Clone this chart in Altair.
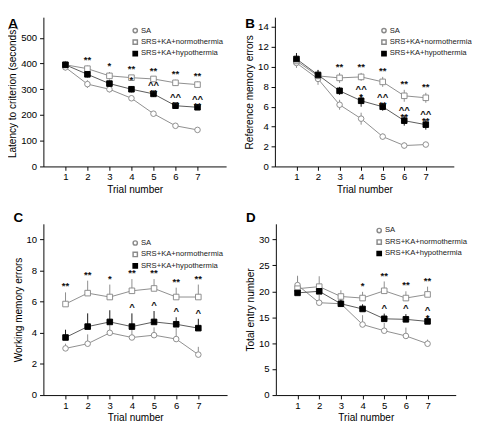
import altair as alt
import pandas as pd

FONT = "Liberation Sans"
trials = [1, 2, 3, 4, 5, 6, 7]
groups = ["SA", "SRS+KA+normothermia", "SRS+KA+hypothermia"]

a_sa = [385, 320, 300, 265, 205, 158, 142]
a_norm = [395, 380, 352, 345, 340, 325, 318]
a_hypo = [395, 358, 322, 300, 282, 236, 230]
a_sa_err = [12, 15, 12, 10, 10, 8, 8]
a_norm_err = [15, 12, 15, 10, 10, 12, 12]
a_hypo_err = [12, 12, 12, 12, 12, 10, 10]
a_ann_trial = [2, 3, 4, 5, 6, 7, 4, 5, 6, 7]
a_ann_group = ["n"] * 6 + ["h"] * 4
a_ann_text = ["**", "*", "**", "**", "**", "**", "*", "^^\n**", "^^\n**", "^^\n**"]

b_sa = [10.4, 8.8, 6.2, 4.8, 3.0, 2.1, 2.2]
b_norm = [10.6, 9.1, 8.9, 9.0, 8.5, 7.1, 6.9]
b_hypo = [10.8, 9.2, 7.6, 6.6, 6.0, 4.6, 4.2]
b_sa_err = [0.5, 0.6, 0.5, 0.6, 0.3, 0.3, 0.2]
b_norm_err = [0.6, 0.6, 0.5, 0.4, 0.5, 0.6, 0.5]
b_hypo_err = [0.6, 0.5, 0.4, 0.6, 0.4, 0.5, 0.5]
b_ann_trial = [3, 4, 5, 6, 7, 4, 5, 6, 7]
b_ann_group = ["n"] * 5 + ["h"] * 4
b_ann_text = ["**", "**", "**", "**", "**", "^^\n*", "^^\n**", "^^\n**", "^^\n**"]

c_sa = [3.0, 3.3, 4.0, 3.7, 3.85, 3.6, 2.6]
c_norm = [5.85, 6.55, 6.3, 6.7, 6.85, 6.3, 6.3]
c_hypo = [3.7, 4.4, 4.7, 4.4, 4.7, 4.55, 4.3]
c_sa_err = [0.3, 0.6, 0.5, 0.6, 0.5, 0.7, 0.5]
c_norm_err = [0.75, 0.8, 0.8, 0.75, 0.6, 0.6, 0.8]
c_hypo_err = [0.5, 0.85, 0.75, 0.85, 0.7, 0.45, 0.6]
c_ann_trial = [1, 2, 3, 4, 5, 6, 7, 4, 5, 6, 7]
c_ann_group = ["n"] * 7 + ["h"] * 4
c_ann_text = ["**", "**", "*", "**", "**", "**", "**", "^", "^", "^", "^"]

d_sa = [21.2, 17.8, 17.6, 13.6, 12.4, 11.4, 9.9]
d_norm = [20.5, 20.9, 19.0, 18.7, 20.1, 18.7, 19.4]
d_hypo = [19.7, 20.0, 17.6, 16.6, 14.7, 14.6, 14.2]
d_sa_err = [1.5, 1.5, 1.2, 1.8, 1.5, 1.6, 0.8]
d_norm_err = [2.5, 2.0, 1.2, 1.2, 1.8, 1.3, 1.5]
d_hypo_err = [1.2, 1.3, 0.8, 0.9, 1.0, 1.0, 1.0]
d_ann_trial = [4, 5, 6, 7, 5, 6, 7]
d_ann_group = ["n"] * 4 + ["h"] * 3
d_ann_text = ["*", "**", "**", "**", "^", "^", "^\n*"]

line_colors = ["#8a8a8a", "#8a8a8a", "#555555"]
bar_colors = ["#8a8a8a", "#8a8a8a", "#111111"]


def panel(letter, ytitle, ymax, yticks, means, errs, two_sided, ann, leg_xy, w, h, toff):
    rows = []
    for g, m, e in zip(groups, means, errs):
        for t, v, er in zip(trials, m, e):
            rows.append(dict(trial=t, group=g, value=v,
                             lo=v - er if two_sided else v, hi=v + er))
    df = pd.DataFrame(rows)
    hi = {(r["group"], r["trial"]): r["hi"] for r in rows}
    gmap = {"n": groups[1], "h": groups[2]}
    adf = pd.DataFrame([dict(trial=t, text=s, pos=hi[(gmap[g], t)])
                        for t, g, s in zip(*ann)])

    xs = alt.Scale(domain=[0, 8.3], nice=False, zero=False)
    ys = alt.Scale(domain=[0, ymax], nice=False)
    common = dict(grid=False, tickSize=4, domainColor="black", tickColor="black",
                  labelFontSize=10, titleFontSize=10.5, titleFontWeight="normal",
                  labelFont=FONT, titleFont=FONT, labelColor="black", titleColor="black",
                  labelOverlap=False)
    xax = alt.Axis(values=trials, tickCount=7, title="Trial number", titlePadding=3,
                   labelPadding=2, **common)
    yax = alt.Axis(values=yticks, tickCount=len(yticks), title=ytitle, titlePadding=3,
                   labelPadding=3, **common)
    X = lambda f: alt.X(f, type="quantitative", scale=xs, axis=xax)
    Y = lambda f: alt.Y(f, type="quantitative", scale=ys, axis=yax)

    leg = alt.Legend(orient="none", legendX=leg_xy[0], legendY=leg_xy[1], title=None,
                     labelFontSize=8, labelFont=FONT, labelColor="#222",
                     symbolSize=20, rowPadding=0, labelOffset=2, labelLimit=200, padding=0)

    layers = []
    for g, lc, bc in zip(groups, line_colors, bar_colors):
        sub = alt.Chart(df).transform_filter(alt.datum.group == g)
        layers.append(sub.mark_line(strokeWidth=1, color=lc).encode(x=X("trial"), y=Y("value")))
        layers.append(sub.mark_rule(strokeWidth=1, color=bc).encode(x=X("trial"), y=Y("lo"), y2="hi:Q"))
    pts = alt.Chart(df).mark_point(size=34, strokeWidth=1, opacity=1, filled=True).encode(
        x=X("trial"), y=Y("value"),
        shape=alt.Shape("group:N", title=None, legend=leg,
                        scale=alt.Scale(domain=groups, range=["circle", "square", "square"])),
        fill=alt.Fill("group:N", title=None, legend=leg,
                      scale=alt.Scale(domain=groups, range=["white", "white", "black"])),
        stroke=alt.Stroke("group:N", title=None, legend=leg,
                          scale=alt.Scale(domain=groups, range=["#8a8a8a", "#8a8a8a", "black"])))
    layers.append(pts)
    txt = alt.Chart(adf).mark_text(font=FONT, fontSize=10, fontWeight="bold",
                                   baseline="bottom", lineBreak="\n", lineHeight=8,
                                   dy=-1, color="#111").encode(
        x=X("trial"), y=Y("pos"), text="text:N")
    layers.append(txt)
    return alt.layer(*layers).properties(
        width=w, height=h,
        title=alt.TitleParams(letter, anchor="start", frame="bounds", fontSize=14,
                              fontWeight="bold", font=FONT, offset=toff, color="black"))


A = panel("A", "Latency to criterion (seconds)", 580, [0, 100, 200, 300, 400, 500],
          [a_sa, a_norm, a_hypo], [a_sa_err, a_norm_err, a_hypo_err], True,
          (a_ann_trial, a_ann_group, a_ann_text), (92, 10), 191, 156, -14)
B = panel("B", "Reference memory errors", 15, [0, 2, 4, 6, 8, 10, 12, 14],
          [b_sa, b_norm, b_hypo], [b_sa_err, b_norm_err, b_hypo_err], True,
          (b_ann_trial, b_ann_group, b_ann_text), (110, 10), 187, 156, -14)
C = panel("C", "Working memory errors", 11, [0, 2, 4, 6, 8, 10],
          [c_sa, c_norm, c_hypo], [c_sa_err, c_norm_err, c_hypo_err], False,
          (c_ann_trial, c_ann_group, c_ann_text), (92, 16), 192, 179, -1)
D = panel("D", "Total entry number", 33, [0, 5, 10, 15, 20, 25, 30],
          [d_sa, d_norm, d_hypo], [d_sa_err, d_norm_err, d_hypo_err], False,
          (d_ann_trial, d_ann_group, d_ann_text), (104, 3), 188, 179, -1)

res = dict(x="independent", y="independent",
           shape="independent", fill="independent", stroke="independent")
leg_res = dict(shape="independent", fill="independent", stroke="independent")

top = alt.hconcat(A, B, spacing=19).resolve_scale(**res).resolve_legend(**leg_res)
bot = alt.hconcat(C, D, spacing=19).resolve_scale(**res).resolve_legend(**leg_res)
chart = alt.vconcat(top, bot, spacing=17).resolve_scale(**res).resolve_legend(**leg_res).properties(
    padding=0).configure(background="white").configure_view(stroke=None).configure_axis(labelOverlap=False)

chart.save("out.html", embed_options={"renderer": "svg", "actions": False})
